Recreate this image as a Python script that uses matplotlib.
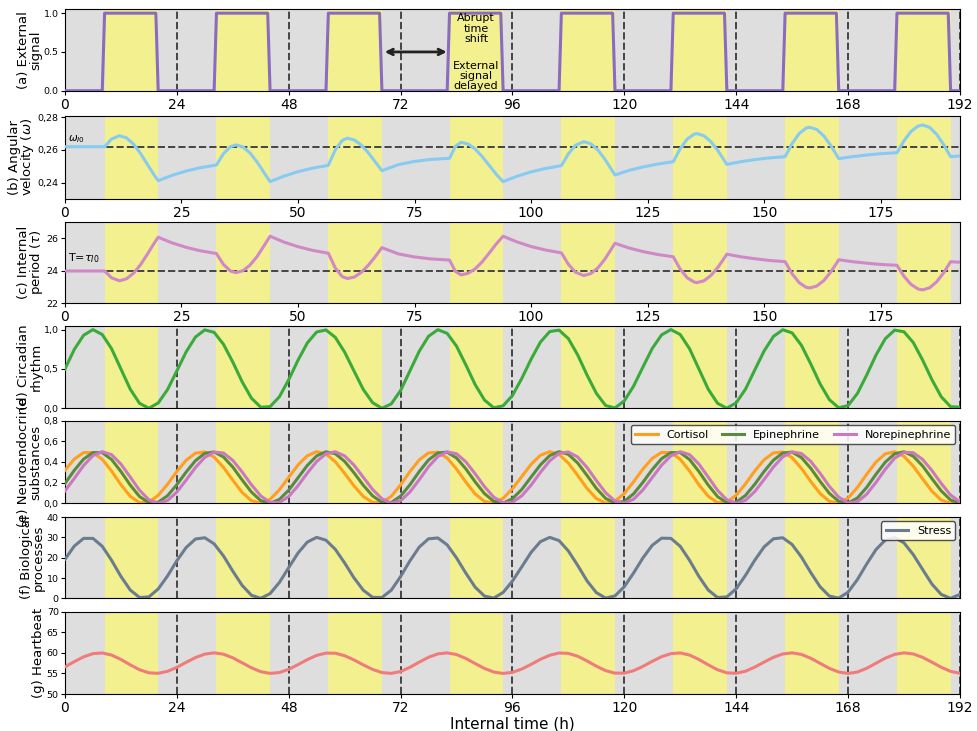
import numpy as np
import matplotlib
matplotlib.use('Agg')
import matplotlib.pyplot as plt
from matplotlib.ticker import FuncFormatter

# light (external signal) on / off times in hours
light_on = [8.5, 32.5, 56.5, 82.5, 106.5, 130.5, 154.5, 178.5]
light_off = [20, 44, 68, 94, 118, 142, 166, 190]

# angular velocity omega and internal period tau, sampled at these times
omega_t = [0, 8.5, 10.0, 11.7, 13.2, 14.7, 16.2, 17.7, 19.2, 20.0,
           23, 26, 29, 32.5, 34.0, 35.5, 36.7, 38.2, 39.7, 41.2, 42.7, 44.0,
           47, 50, 53, 56.5, 58.0, 59.5, 60.6, 62.1, 63.6, 65.1, 66.6, 68.0,
           71.5, 75.0, 78.5, 82.5, 83.75, 85.0, 86.5, 88.0, 89.5, 91.0, 92.5, 94.0,
           97, 100, 103, 106.5, 108.0, 109.5, 111.3, 112.8, 114.3, 115.8, 117.3, 118.0,
           121, 124, 127, 130.5, 132.0, 133.5, 135.0, 135.6, 137.1, 138.6, 140.1, 141.3, 142.0,
           145, 148, 151, 154.5, 156.0, 157.5, 159.0, 159.8, 161.3, 162.8, 164.3, 165.5, 166.0,
           169, 172, 175, 178.5, 180.0, 181.5, 183.0, 184.0, 185.5, 187.0, 188.5, 189.5, 190.0,
           191, 192]
omega = [0.2620, 0.2620, 0.2667, 0.2687, 0.2674, 0.2636, 0.2579, 0.2511, 0.2444, 0.2412,
         0.2445, 0.2471, 0.2491, 0.2508, 0.2577, 0.2620, 0.2631, 0.2618, 0.2582, 0.2527, 0.2462, 0.2406,
         0.2440, 0.2467, 0.2488, 0.2506, 0.2601, 0.2659, 0.2672, 0.2661, 0.2629, 0.2582, 0.2526, 0.2473,
         0.2510, 0.2530, 0.2542, 0.2549, 0.2622, 0.2647, 0.2636, 0.2606, 0.2560, 0.2506, 0.2452, 0.2406,
         0.2439, 0.2466, 0.2486, 0.2504, 0.2576, 0.2628, 0.2651, 0.2638, 0.2601, 0.2545, 0.2478, 0.2447,
         0.2475, 0.2496, 0.2513, 0.2528, 0.2608, 0.2667, 0.2697, 0.2700, 0.2687, 0.2650, 0.2595, 0.2543, 0.2512,
         0.2528, 0.2541, 0.2551, 0.2559, 0.2639, 0.2700, 0.2734, 0.2739, 0.2725, 0.2686, 0.2627, 0.2571, 0.2547,
         0.2559, 0.2569, 0.2577, 0.2583, 0.2656, 0.2713, 0.2746, 0.2753, 0.2738, 0.2696, 0.2633, 0.2584, 0.2559,
         0.2561, 0.2563]
tau = [23.98, 23.98, 23.56, 23.38, 23.50, 23.84, 24.36, 25.02, 25.71, 26.05,
       25.70, 25.43, 25.22, 25.05, 24.38, 23.98, 23.88, 24.00, 24.34, 24.86, 25.52, 26.11,
       25.75, 25.47, 25.25, 25.07, 24.16, 23.63, 23.52, 23.61, 23.90, 24.34, 24.87, 25.41,
       25.03, 24.84, 24.72, 24.65, 23.96, 23.74, 23.84, 24.11, 24.54, 25.07, 25.63, 26.11,
       25.76, 25.48, 25.27, 25.09, 24.39, 23.91, 23.70, 23.82, 24.16, 24.69, 25.36, 25.68,
       25.39, 25.17, 25.00, 24.85, 24.09, 23.56, 23.30, 23.27, 23.38, 23.71, 24.21, 24.71, 25.01,
       24.85, 24.73, 24.63, 24.55, 23.81, 23.27, 22.98, 22.94, 23.06, 23.39, 23.92, 24.44, 24.67,
       24.55, 24.46, 24.38, 24.33, 23.66, 23.16, 22.88, 22.82, 22.95, 23.31, 23.86, 24.32, 24.55,
       24.53, 24.52]
omega_ref = 0.262
tau_ref = 24

# rhythms sampled every 2 h from 0 to 192
hours = np.arange(0, 193, 2)
circadian = [0.500, 0.748, 0.928, 1.000, 0.937, 0.757, 0.500, 0.243, 0.063, 0.000,
             0.067, 0.237, 0.475, 0.717, 0.906, 0.996, 0.965, 0.814, 0.588, 0.338,
             0.129, 0.013, 0.020, 0.146, 0.363, 0.611, 0.831, 0.970, 0.995, 0.901,
             0.714, 0.475, 0.239, 0.071, 0.000, 0.055, 0.225, 0.474, 0.724, 0.915,
             0.999, 0.952, 0.790, 0.552, 0.301, 0.105, 0.006, 0.031, 0.162, 0.379,
             0.623, 0.841, 0.975, 0.993, 0.885, 0.678, 0.423, 0.190, 0.034, 0.004,
             0.094, 0.282, 0.525, 0.761, 0.933, 1.000, 0.937, 0.757, 0.500, 0.243,
             0.063, 0.000, 0.069, 0.243, 0.488, 0.729, 0.913, 0.998, 0.958, 0.800,
             0.564, 0.311, 0.109, 0.006, 0.034, 0.187, 0.422, 0.677, 0.885, 0.993,
             0.972, 0.835, 0.613, 0.363, 0.146, 0.020, 0.013]
cortisol = [0.320, 0.428, 0.491, 0.491, 0.426, 0.312, 0.180, 0.068, 0.006, 0.012,
            0.077, 0.184, 0.308, 0.417, 0.486, 0.497, 0.447, 0.348, 0.224, 0.106,
            0.025, 0.000, 0.038, 0.130, 0.251, 0.372, 0.461, 0.500, 0.477, 0.402,
            0.290, 0.169, 0.066, 0.009, 0.007, 0.067, 0.178, 0.307, 0.420, 0.488,
            0.495, 0.438, 0.332, 0.206, 0.091, 0.018, 0.002, 0.048, 0.141, 0.259,
            0.377, 0.465, 0.500, 0.474, 0.389, 0.270, 0.144, 0.046, 0.001, 0.020,
            0.095, 0.209, 0.332, 0.435, 0.493, 0.491, 0.426, 0.312, 0.180, 0.068,
            0.006, 0.012, 0.078, 0.188, 0.314, 0.422, 0.488, 0.496, 0.442, 0.338,
            0.212, 0.095, 0.019, 0.002, 0.050, 0.153, 0.281, 0.400, 0.479, 0.499,
            0.455, 0.359, 0.236, 0.117, 0.031, 0.000, 0.032]
epinephrine = [0.192, 0.319, 0.428, 0.491, 0.491, 0.424, 0.308, 0.177, 0.065, 0.006,
               0.010, 0.073, 0.180, 0.303, 0.413, 0.484, 0.497, 0.449, 0.351, 0.227,
               0.109, 0.026, 0.000, 0.037, 0.127, 0.247, 0.367, 0.459, 0.499, 0.480,
               0.406, 0.296, 0.175, 0.072, 0.010, 0.007, 0.069, 0.179, 0.307, 0.420,
               0.488, 0.495, 0.439, 0.334, 0.208, 0.094, 0.019, 0.002, 0.044, 0.134,
               0.254, 0.372, 0.462, 0.500, 0.474, 0.390, 0.270, 0.145, 0.047, 0.002,
               0.019, 0.092, 0.204, 0.327, 0.432, 0.491, 0.491, 0.424, 0.308, 0.177,
               0.065, 0.006, 0.011, 0.076, 0.185, 0.309, 0.418, 0.487, 0.496, 0.443,
               0.339, 0.213, 0.096, 0.019, 0.002, 0.051, 0.154, 0.281, 0.399, 0.479,
               0.499, 0.456, 0.362, 0.239, 0.120, 0.032, 0.000]
norepinephrine = [0.120, 0.241, 0.366, 0.462, 0.500, 0.471, 0.380, 0.254, 0.126, 0.034,
                  0.000, 0.027, 0.109, 0.225, 0.347, 0.445, 0.496, 0.487, 0.416, 0.304,
                  0.180, 0.072, 0.009, 0.007, 0.066, 0.170, 0.293, 0.405, 0.480, 0.499,
                  0.459, 0.370, 0.252, 0.134, 0.044, 0.001, 0.025, 0.109, 0.228, 0.354,
                  0.453, 0.498, 0.480, 0.402, 0.286, 0.161, 0.059, 0.005, 0.010, 0.072,
                  0.176, 0.299, 0.411, 0.484, 0.497, 0.448, 0.347, 0.220, 0.102, 0.022,
                  0.001, 0.040, 0.130, 0.250, 0.369, 0.460, 0.500, 0.471, 0.380, 0.254,
                  0.126, 0.034, 0.000, 0.029, 0.114, 0.231, 0.352, 0.450, 0.498, 0.482,
                  0.406, 0.291, 0.164, 0.060, 0.004, 0.014, 0.088, 0.203, 0.330, 0.437,
                  0.494, 0.490, 0.425, 0.317, 0.192, 0.080, 0.013]
stress = [19.2, 25.7, 29.5, 29.5, 25.6, 18.7, 10.8, 4.1, 0.4, 0.7,
          4.6, 11.0, 18.5, 25.0, 29.2, 29.8, 26.8, 20.9, 13.4, 6.4,
          1.5, 0.0, 2.3, 7.8, 15.1, 22.3, 27.7, 30.0, 28.6, 24.1,
          17.4, 10.1, 4.0, 0.5, 0.4, 4.0, 10.7, 18.4, 25.2, 29.3,
          29.7, 26.3, 19.9, 12.4, 5.5, 1.1, 0.1, 2.9, 8.5, 15.5,
          22.6, 27.9, 30.0, 28.4, 23.3, 16.2, 8.6, 2.8, 0.1, 1.2,
          5.7, 12.5, 19.9, 26.1, 29.6, 29.5, 25.6, 18.7, 10.8, 4.1,
          0.4, 0.7, 4.7, 11.3, 18.8, 25.3, 29.3, 29.8, 26.5, 20.3,
          12.7, 5.7, 1.1, 0.1, 3.0, 9.2, 16.9, 24.0, 28.7, 29.9,
          27.3, 21.5, 14.2, 7.0, 1.9, 0.0, 1.9]
heartbeat = [56.60, 57.86, 59.03, 59.81, 59.98, 59.46, 58.40, 57.09, 55.90, 55.15,
             55.03, 55.51, 56.48, 57.70, 58.86, 59.70, 60.00, 59.67, 58.80, 57.60,
             56.38, 55.43, 55.01, 55.22, 55.99, 57.14, 58.36, 59.39, 59.94, 59.91,
             59.31, 58.29, 57.08, 55.97, 55.22, 55.01, 55.47, 56.48, 57.74, 58.93,
             59.75, 59.99, 59.59, 58.64, 57.41, 56.21, 55.34, 55.00, 55.27, 56.06,
             57.20, 58.43, 59.42, 59.96, 59.87, 59.18, 58.04, 56.76, 55.68, 55.07,
             55.08, 55.67, 56.72, 57.95, 59.07, 59.81, 59.98, 59.46, 58.40, 57.09,
             55.90, 55.15, 55.03, 55.54, 56.54, 57.76, 58.92, 59.73, 60.00, 59.62,
             58.69, 57.46, 56.23, 55.34, 55.00, 55.34, 56.25, 57.48, 58.71, 59.63,
             60.00, 59.73, 58.91, 57.73, 56.49, 55.51, 55.03]

day_ticks = [0, 24, 48, 72, 96, 120, 144, 168, 192]

GRAY = '#dedede'
YELLOW = '#f3f08f'

def comma(nd):
    return FuncFormatter(lambda v, p: f'{v:.{nd}f}'.replace('.', ','))

def ylab(ax, text):
    ax.set_ylabel(text, fontsize=9.5, linespacing=0.9, labelpad=1)

fig = plt.figure(figsize=(9.77, 7.31), dpi=100)
L, W = 0.0665, 0.916
boxes = [0.8759, 0.7278, 0.5851, 0.4415, 0.3115, 0.1815, 0.0506]
heights = [0.1114, 0.114, 0.1116, 0.113, 0.113, 0.1112, 0.1126]
axes = [fig.add_axes([L, b, W, h]) for b, h in zip(boxes, heights)]

for ax in axes:
    ax.set_facecolor(GRAY)
    for on, off in zip(light_on, light_off):
        ax.axvspan(on, off, color=YELLOW, lw=0, zorder=0)
    ax.set_xlim(0, 192)
    ax.tick_params(axis='y', labelsize=6.8, length=3, pad=1.5)
    ax.tick_params(axis='x', labelsize=10, length=3, pad=2)

# vertical day lines in panels a, d, e, f, g
for i in [0, 3, 4, 5, 6]:
    for d in day_ticks:
        axes[i].axvline(d, color='#444444', ls='--', lw=1.4, zorder=1)

# (a) external signal: ramps of 0.5 h at each switch
sig_t, sig_v = [0], [0]
for on, off in zip(light_on, light_off):
    sig_t += [on - 0.5, on, off - 0.5, off]
    sig_v += [0, 1, 1, 0]
sig_t.append(192)
sig_v.append(0)
ax = axes[0]
ax.plot(sig_t, sig_v, color='#8a6cbf', lw=2.2, zorder=3)
ax.set_ylim(0, 1.05)
ax.set_yticks([0, 0.5, 1.0])
ax.set_xticks(day_ticks)
ylab(ax, '(a) External\nsignal')
ax.annotate('', xy=(68, 0.5), xytext=(82.5, 0.5),
            arrowprops=dict(arrowstyle='<->', color='#222222', lw=2), zorder=4)
ax.text(88.2, 0.80, 'Abrupt\ntime\nshift', ha='center', va='center',
        fontsize=8, linespacing=1.05)
ax.text(88.2, 0.19, 'External\nsignal\ndelayed', ha='center', va='center',
        fontsize=8, linespacing=1.05)

# (b) angular velocity
ax = axes[1]
ax.plot(omega_t, omega, color='#87cbf0', lw=2.2, zorder=3)
ax.axhline(omega_ref, color='#444444', ls='--', lw=1.4, zorder=2)
ax.text(0.6, omega_ref + 0.0012, r'$\omega_{I0}$', fontsize=7.5, va='bottom')
ax.set_ylim(0.23, 0.281)
ax.set_yticks([0.24, 0.26, 0.28])
ax.yaxis.set_major_formatter(comma(2))
ylab(ax, '(b) Angular\nvelocity ($\\omega$)')

# (c) internal period
ax = axes[2]
ax.plot(omega_t, tau, color='#d088c6', lw=2.2, zorder=3)
ax.axhline(tau_ref, color='#444444', ls='--', lw=1.4, zorder=2)
ax.text(0.6, tau_ref + 0.35, r'T=$\tau_{I0}$', fontsize=8, va='bottom')
ax.set_ylim(22, 27)
ax.set_yticks([22, 24, 26])
ylab(ax, '(c) Internal\nperiod ($\\tau$)')

# (d) circadian rhythm
ax = axes[3]
ax.plot(hours, circadian, color='#3aaa3a', lw=2.2, zorder=3)
ax.set_ylim(0, 1.05)
ax.set_yticks([0, 0.5, 1.0])
ax.yaxis.set_major_formatter(comma(1))
ylab(ax, '(d) Circadian\nrhythm')

# (e) neuroendocrine substances
ax = axes[4]
ax.plot(hours, cortisol, color='#ff9f1c', lw=2.2, zorder=3, label='Cortisol')
ax.plot(hours, epinephrine, color='#5b8a3c', lw=2.2, zorder=3, label='Epinephrine')
ax.plot(hours, norepinephrine, color='#cc77c4', lw=2.2, zorder=3, label='Norepinephrine')
ax.set_ylim(0, 0.8)
ax.set_yticks([0, 0.2, 0.4, 0.6, 0.8])
ax.yaxis.set_major_formatter(comma(1))
ylab(ax, '(e) Neuroendocrine\nsubstances')
ax.legend(loc='upper right', ncol=3, fontsize=8, framealpha=0.85,
          borderaxespad=0.4, handlelength=2.0, columnspacing=1.2,
          handletextpad=0.8, edgecolor='#333333')

# (f) biological processes
ax = axes[5]
ax.plot(hours, stress, color='#6b7c8f', lw=2.2, zorder=3, label='Stress')
ax.set_ylim(0, 40)
ax.set_yticks([0, 10, 20, 30, 40])
ylab(ax, '(f) Biological\nprocesses')
ax.legend(loc='upper right', fontsize=8, framealpha=0.85, borderaxespad=0.4,
          handlelength=2.0, handletextpad=0.8, edgecolor='#333333')

# (g) heartbeat
ax = axes[6]
ax.plot(hours, heartbeat, color='#f07b7b', lw=2.2, zorder=3)
ax.set_ylim(50, 70)
ax.set_yticks([50, 55, 60, 65, 70])
ax.set_xticks(day_ticks)
ylab(ax, '(g) Heartbeat')
ax.set_xlabel('Internal time (h)', fontsize=11, labelpad=1)

for i in [3, 4, 5]:
    axes[i].tick_params(axis='x', bottom=False, labelbottom=False)

fig.savefig('out.png', dpi=100)
